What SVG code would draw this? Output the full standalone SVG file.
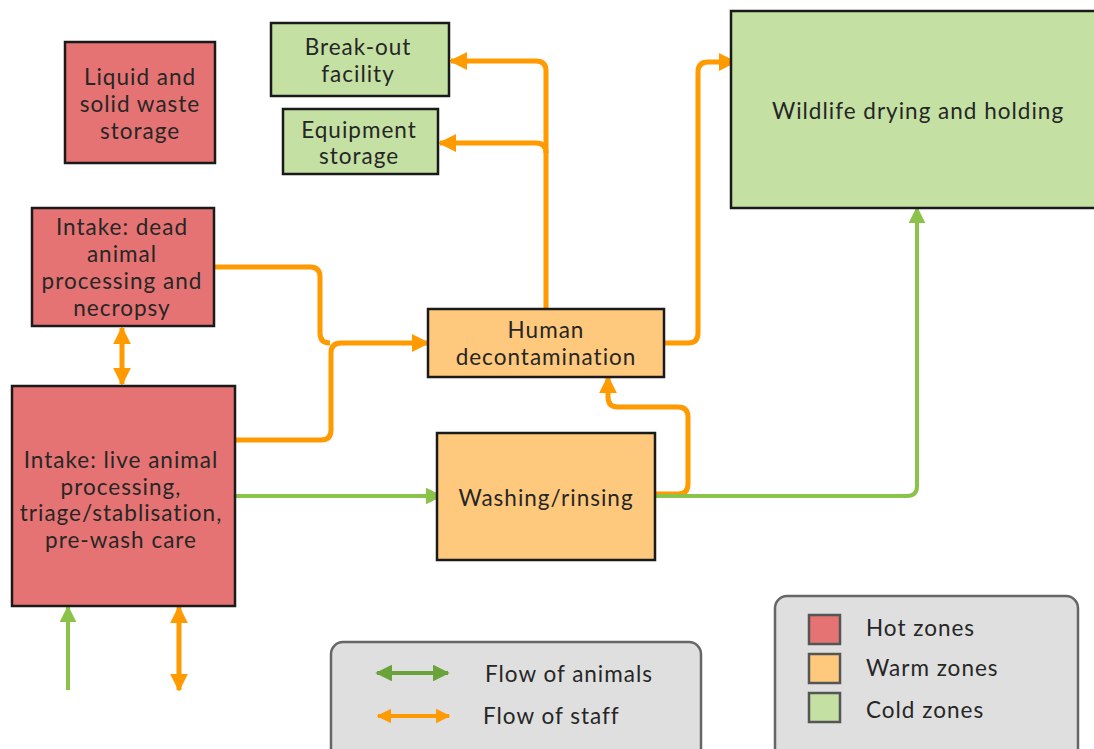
<svg xmlns="http://www.w3.org/2000/svg" width="1094" height="749" viewBox="0 0 1094 749">
  <defs>
    <marker id="ahO" viewBox="0 0 10 10" refX="9" refY="5" markerWidth="3.6" markerHeight="3.6" orient="auto-start-reverse" markerUnits="strokeWidth">
      <path d="M0,0 L10,5 L0,10 Z" fill="#FF9A00"/>
    </marker>
    <marker id="ahG" viewBox="0 0 10 10" refX="9" refY="5" markerWidth="4.2" markerHeight="4.2" orient="auto-start-reverse" markerUnits="strokeWidth">
      <path d="M0,0 L10,5 L0,10 Z" fill="#8BC34A"/>
    </marker>
    <marker id="ahL" viewBox="0 0 10 10" refX="9" refY="5" markerWidth="4.2" markerHeight="4.2" orient="auto-start-reverse" markerUnits="strokeWidth">
      <path d="M0,0 L10,5 L0,10 Z" fill="#6AA33A"/>
    </marker>
  </defs>
  <style>
    .box { stroke: #1a1a1a; stroke-width: 2.5; }
    .hot { fill: #E57373; }
    .warm { fill: #FFC97D; }
    .cold { fill: #C4E0A3; }
    .lbl { font-family: Lato, "Open Sans", sans-serif; font-size: 22.5px; letter-spacing: 1px; fill: #262626; text-anchor: middle; }
    .leg { font-family: Lato, "Open Sans", sans-serif; font-size: 22.5px; letter-spacing: 1px; fill: #262626; }
    .staff { fill: none; stroke: #FF9A00; stroke-width: 5; stroke-linejoin: round; }
    .animal { fill: none; stroke: #8BC34A; stroke-width: 4; stroke-linejoin: round; }
    .panel { fill: #DFDFDF; stroke: #666; stroke-width: 2.5; }
    .sw { stroke: #555; stroke-width: 2.5; }
  </style>
  <rect width="1094" height="749" fill="#ffffff"/>

  <!-- connectors -->
  <g id="connectors">
    <!-- dead-animal intake to human decontamination -->
    <path class="staff" d="M214,267 H310 Q320,267 320,277 V333 Q320,343 330,343" />
    <!-- live-animal intake to human decontamination -->
    <path class="staff" d="M235,440 H321 Q331,440 331,430 V353 Q331,343 341,343 H428" marker-end="url(#ahO)"/>
    <!-- between the two intake rooms -->
    <path class="staff" d="M122,328 V384" marker-start="url(#ahO)" marker-end="url(#ahO)"/>
    <!-- decontamination up to break-out facility and equipment storage -->
    <path class="staff" d="M546,309 V71 Q546,61 536,61 H451" marker-end="url(#ahO)"/>
    <path class="staff" d="M546,153 Q546,143 536,143 H440" marker-end="url(#ahO)"/>
    <!-- decontamination to wildlife drying -->
    <path class="staff" d="M664,343 H688 Q698,343 698,333 V72 Q698,62 708,62 H735" marker-end="url(#ahO)"/>
    <!-- washing back to decontamination -->
    <path class="staff" d="M655,494 H678 Q688,494 688,484 V417 Q688,407 678,407 H618 Q608,407 608,397 V377" marker-end="url(#ahO)"/>
    <!-- staff entry at the bottom -->
    <path class="staff" d="M179,607 V690" marker-start="url(#ahO)" marker-end="url(#ahO)"/>

    <!-- animal flow -->
    <path class="animal" d="M235,496 H441" marker-end="url(#ahG)"/>
    <path class="animal" d="M655,496 H907 Q917,496 917,486 V208" marker-end="url(#ahG)"/>
    <path class="animal" d="M68,690 V607" marker-end="url(#ahG)"/>
  </g>

  <!-- hot zones -->
  <g id="waste-storage">
    <rect class="box hot" x="65" y="42" width="150" height="121"/>
    <text class="lbl" x="140" y="85">Liquid and</text>
    <text class="lbl" x="140" y="112">solid waste</text>
    <text class="lbl" x="140" y="139">storage</text>
  </g>
  <g id="intake-dead">
    <rect class="box hot" x="32" y="208" width="182" height="118"/>
    <text class="lbl" x="122" y="235">Intake: dead</text>
    <text class="lbl" x="122" y="262">animal</text>
    <text class="lbl" x="122" y="289">processing and</text>
    <text class="lbl" x="122" y="316">necropsy</text>
  </g>
  <g id="intake-live">
    <rect class="box hot" x="12" y="386" width="223" height="220"/>
    <text class="lbl" x="121" y="468">Intake: live animal</text>
    <text class="lbl" x="121" y="495">processing,</text>
    <text class="lbl" x="121" y="521">triage/stablisation,</text>
    <text class="lbl" x="121" y="548">pre-wash care</text>
  </g>

  <!-- warm zones -->
  <g id="human-decontamination">
    <rect class="box warm" x="428" y="309" width="236" height="68"/>
    <text class="lbl" x="546" y="338">Human</text>
    <text class="lbl" x="546" y="365">decontamination</text>
  </g>
  <g id="washing-rinsing">
    <rect class="box warm" x="437" y="433" width="218" height="127"/>
    <text class="lbl" x="546" y="506">Washing/rinsing</text>
  </g>

  <!-- cold zones -->
  <g id="break-out">
    <rect class="box cold" x="271" y="23" width="178" height="73"/>
    <text class="lbl" x="358" y="55">Break-out</text>
    <text class="lbl" x="358" y="82">facility</text>
  </g>
  <g id="equipment-storage">
    <rect class="box cold" x="283" y="109" width="155" height="65"/>
    <text class="lbl" x="359" y="138">Equipment</text>
    <text class="lbl" x="359" y="164">storage</text>
  </g>
  <g id="wildlife-drying">
    <rect class="box cold" x="731" y="11" width="370" height="197"/>
    <text class="lbl" x="918" y="119">Wildlife drying and holding</text>
  </g>

  <!-- legend: flows -->
  <g id="legend-flows">
    <rect class="panel" x="331" y="642" width="370" height="120" rx="12"/>
    <path d="M377,673 H448" stroke="#6AA33A" stroke-width="4" fill="none" marker-start="url(#ahL)" marker-end="url(#ahL)"/>
    <path d="M378,716 H449" stroke="#FF9A00" stroke-width="4" fill="none" marker-start="url(#ahO)" marker-end="url(#ahO)"/>
    <text class="leg" x="485" y="682">Flow of animals</text>
    <text class="leg" x="483" y="724">Flow of staff</text>
  </g>

  <!-- legend: zones -->
  <g id="legend-zones">
    <rect class="panel" x="775" y="596" width="303" height="166" rx="12"/>
    <rect class="sw hot" x="809" y="615" width="31" height="29"/>
    <rect class="sw warm" x="809" y="654" width="31" height="29"/>
    <rect class="sw cold" x="809" y="693" width="31" height="29"/>
    <text class="leg" x="866" y="636">Hot zones</text>
    <text class="leg" x="866" y="676">Warm zones</text>
    <text class="leg" x="866" y="718">Cold zones</text>
  </g>
</svg>
